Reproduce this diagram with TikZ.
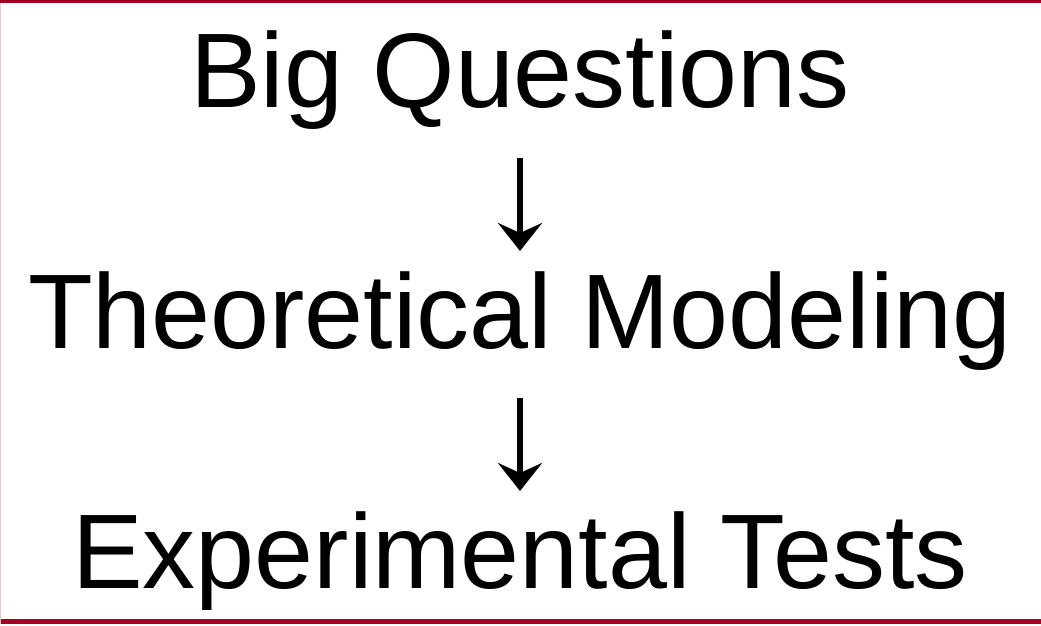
\documentclass[tikz,border=0pt]{standalone}
\usepackage{fontspec}
\setmainfont{Liberation Sans}
\usetikzlibrary{arrows.meta}
\definecolor{bandred}{RGB}{165,0,33}
\definecolor{edgepink}{RGB}{240,200,206}
\tikzset{
  lbl/.style={anchor=base, inner sep=0pt, font=\fontsize{106}{120}\selectfont},
  flow/.style={line width=6pt, -{Stealth[length=28pt, width=44pt, inset=10pt]}}
}
\begin{document}
\begin{tikzpicture}[x=1pt,y=1pt]
\useasboundingbox (0,0) rectangle (1041,625);
\fill[white] (0,0) rectangle (1041,625);
\fill[bandred] (0,622) rectangle (1041,625);
\fill[bandred] (0,1) rectangle (1041,6);
\fill[edgepink] (0,1) rectangle (1.2,622);
\node[lbl] (q) at (520,517) {Big Questions};
\node[lbl] (m) at (520,277) {Theoretical Modeling};
\node[lbl] (e) at (520,37) {Experimental Tests};
\draw[flow] ([yshift=-50pt]q.base) -- ([yshift=97pt]m.base);
\draw[flow] ([yshift=-50pt]m.base) -- ([yshift=97pt]e.base);
\end{tikzpicture}
\end{document}
